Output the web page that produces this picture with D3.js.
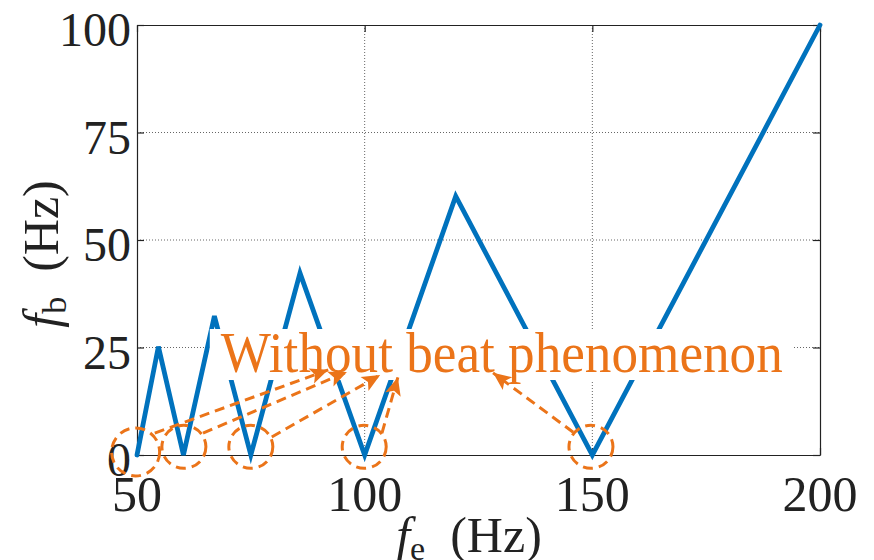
<!DOCTYPE html>
<html>
<head>
<meta charset="utf-8">
<script src="https://d3js.org/d3.v7.min.js"></script>
</head>
<body style="margin:0; background:#fff">
<svg width=874 height=560></svg>
<script>

// beat frequency curve
const feVals = [50, 54.7, 60.2, 67.0, 75, 85.8, 100, 120, 150, 200];
const fbVals = [0, 25.2, 0, 32.3, 0, 42.3, 0, 60.2, 0, 100];

const xTicks = [50, 100, 150, 200];
const yTicks = [0, 25, 50, 75, 100];

// dashed circles round the zero points (data units)
const ringFe = [49.7, 60.3, 75.0, 99.9, 149.7];
const ringFb = [0.7, 1.9, 1.9, 1.9, 1.9];

// arrows from circles to the label (data units)
const arrowFromFe = [53.9, 64.5, 79.6, 103.8, 145.8];
const arrowFromFb = [5.1, 5.1, 4.2, 5.1, 5.3];
const arrowToFe = [92.0, 96.1, 103.4, 107.3, 128.2];
const arrowToFb = [19.8, 19.3, 18.6, 18.1, 19.1];

const noteText = 'Without beat phenomenon';
const noteFe = 68.4, noteFb = 19.3;

const blue = '#0072BD';
const orange = '#EB7419';
const serif = '"Liberation Serif"';

const svg = d3.select('svg');
const m = {left: 137, right: 820, top: 25, bottom: 455};

const x = d3.scaleLinear().domain([50, 200]).range([m.left, m.right]);
const y = d3.scaleLinear().domain([0, 100]).range([m.bottom, m.top]);

// grid
const grid = svg.append('g')
  .attr('stroke', '#666')
  .attr('stroke-width', 1)
  .attr('stroke-dasharray', '1,2');
grid.selectAll('.gx')
  .data(xTicks.slice(1, -1))
  .enter().append('line')
    .attr('x1', d => x(d)).attr('x2', d => x(d))
    .attr('y1', m.top).attr('y2', m.bottom);
grid.selectAll('.gy')
  .data(yTicks.slice(1, -1))
  .enter().append('line')
    .attr('y1', d => y(d)).attr('y2', d => y(d))
    .attr('x1', m.left).attr('x2', m.right);

// axes, ticks inward, box
function styleAxis(g) {
  g.select('.domain').attr('stroke', '#222').attr('stroke-width', 1.2);
  g.selectAll('.tick line').attr('stroke', '#222').attr('stroke-width', 1.2);
  g.selectAll('text').remove();
}
svg.append('g').attr('transform', `translate(0,${m.bottom})`)
  .call(d3.axisBottom(x).tickValues(xTicks).tickSize(-7).tickSizeOuter(0)).call(styleAxis);
svg.append('g').attr('transform', `translate(0,${m.top})`)
  .call(d3.axisTop(x).tickValues(xTicks).tickSize(-7).tickSizeOuter(0)).call(styleAxis);
svg.append('g').attr('transform', `translate(${m.left},0)`)
  .call(d3.axisLeft(y).tickValues(yTicks).tickSize(-7).tickSizeOuter(0)).call(styleAxis);
svg.append('g').attr('transform', `translate(${m.right},0)`)
  .call(d3.axisRight(y).tickValues(yTicks).tickSize(-7).tickSizeOuter(0)).call(styleAxis);

// tick labels
svg.append('g').selectAll('text')
  .data(xTicks).enter().append('text')
    .style('font-family', serif)
    .attr('x', d => x(d)).attr('y', m.bottom + 56)
    .attr('text-anchor', 'middle')
    .attr('font-size', 50).attr('fill', '#222')
    .text(d => d);
svg.append('g').selectAll('text')
  .data(yTicks).enter().append('text')
    .style('font-family', serif)
    .attr('x', m.left - 6).attr('y', d => y(d) + 21)
    .attr('text-anchor', 'end')
    .attr('font-size', 48).attr('fill', '#222')
    .text(d => d);

// axis titles
const xt = svg.append('text')
  .style('font-family', serif)
  .attr('x', 469).attr('y', 552)
  .attr('text-anchor', 'middle')
  .attr('font-size', 50).attr('fill', '#222');
xt.append('tspan').attr('font-style', 'italic').text('f');
xt.append('tspan').attr('font-size', 34).attr('dy', 8).text('e');
xt.append('tspan').attr('dy', -8).text('\u00a0 (Hz)');

const yt = svg.append('text')
  .style('font-family', serif)
  .attr('transform', 'translate(58,254) rotate(-90)')
  .attr('text-anchor', 'middle')
  .attr('font-size', 50).attr('fill', '#222');
yt.append('tspan').attr('font-style', 'italic').text('f');
yt.append('tspan').attr('font-size', 34).attr('dy', 8).text('b');
yt.append('tspan').attr('dy', -8).text('\u00a0 (Hz)');

// the curve
const line = d3.line().x(d => x(d[0])).y(d => y(d[1]));
svg.append('path')
  .datum(d3.zip(feVals, fbVals))
  .attr('d', line)
  .attr('fill', 'none')
  .attr('stroke', blue)
  .attr('stroke-width', 4.8)
  .attr('stroke-linecap', 'round')
  .attr('stroke-linejoin', 'miter');

// note with white background
const note = svg.append('g');
const box = note.append('rect').attr('fill', '#fff');
const nt = note.append('text')
  .style('font-family', serif)
  .attr('x', x(noteFe)).attr('y', y(noteFb))
  .attr('font-size', 57)
  .attr('fill', orange)
  .attr('textLength', 562)
  .attr('lengthAdjust', 'spacingAndGlyphs')
  .text(noteText);
const bb = nt.node().getBBox();
box.attr('x', bb.x - 11).attr('width', bb.width + 22)
   .attr('y', y(noteFb) - 43).attr('height', 51);

// dashed rings
svg.append('g').selectAll('ellipse')
  .data(d3.zip(ringFe, ringFb)).enter().append('ellipse')
    .attr('cx', d => x(d[0])).attr('cy', d => y(d[1]))
    .attr('rx', (d, i) => i === 0 ? 24 : 22)
    .attr('ry', (d, i) => i === 0 ? 24 : 21.5)
    .attr('fill', 'none')
    .attr('stroke', orange)
    .attr('stroke-width', 3)
    .attr('stroke-dasharray', '10,6');

// arrows
svg.append('defs').append('marker')
  .attr('id', 'head')
  .attr('viewBox', '-2 -10 22 20')
  .attr('refX', 18).attr('refY', 0)
  .attr('markerWidth', 22).attr('markerHeight', 20)
  .attr('markerUnits', 'userSpaceOnUse')
  .attr('orient', 'auto')
  .append('path')
    .attr('d', 'M0,-8L18,0L0,8L4,0Z')
    .attr('fill', orange);

svg.append('g').selectAll('line')
  .data(d3.range(arrowFromFe.length)).enter().append('line')
    .attr('x1', i => x(arrowFromFe[i])).attr('y1', i => y(arrowFromFb[i]))
    .attr('x2', i => x(arrowToFe[i])).attr('y2', i => y(arrowToFb[i]))
    .attr('stroke', orange)
    .attr('stroke-width', 3)
    .attr('stroke-dasharray', '10,6')
    .attr('marker-end', 'url(#head)');

</script>
</body>
</html>
